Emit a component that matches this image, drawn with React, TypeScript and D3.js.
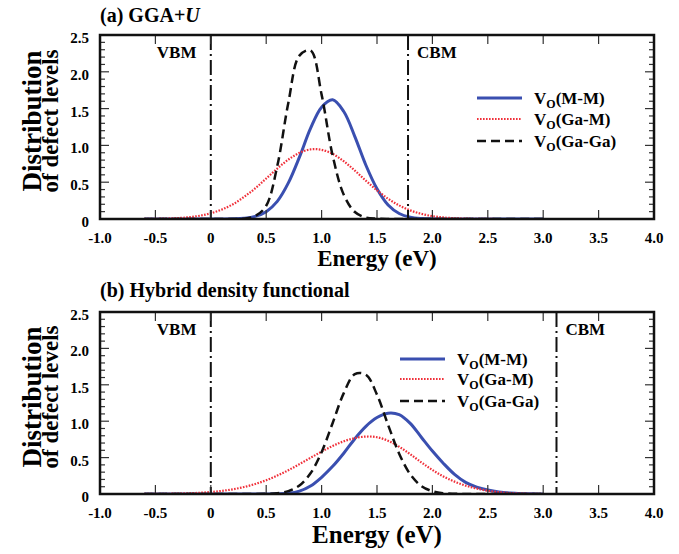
import React from "react";
import * as d3 from "d3";

// ---- data ----
const energies = [
  -0.6, -0.5, -0.4, -0.3, -0.2, -0.1, 0.0, 0.1, 0.2, 0.3, 0.4, 0.5, 0.6, 0.7, 0.8, 0.9,
  1.0, 1.1, 1.2, 1.3, 1.4, 1.5, 1.6, 1.7, 1.8, 1.9, 2.0, 2.1, 2.2, 2.3, 2.4, 2.5, 2.6,
  2.7, 2.8, 2.9, 3.0,
];

// (a) GGA+U
const ggaMM = [
  0, 0, 0, 0, 0, 0, 0, 0, 0.002, 0.01, 0.035, 0.1, 0.24, 0.49, 0.84, 1.23, 1.52, 1.62,
  1.46, 1.12, 0.73, 0.41, 0.19, 0.075, 0.025, 0.007, 0.002, 0, 0, 0, 0, 0, 0, 0, 0, 0, 0,
];
const ggaGaM = [
  0.001, 0.003, 0.006, 0.012, 0.024, 0.044, 0.078, 0.129, 0.2, 0.3, 0.415, 0.55, 0.685,
  0.807, 0.899, 0.946, 0.94, 0.884, 0.785, 0.658, 0.52, 0.39, 0.276, 0.185, 0.117, 0.07,
  0.039, 0.021, 0.0105, 0.005, 0.002, 0.001, 0, 0, 0, 0, 0,
];
const ggaGaGa = [
  0, 0, 0, 0, 0, 0, 0, 0, 0, 0.005, 0.04, 0.18, 0.72, 1.58, 2.22, 2.29, 1.69, 0.86, 0.33,
  0.095, 0.02, 0.004, 0, 0, 0, 0, 0, 0, 0, 0, 0, 0, 0, 0, 0, 0, 0,
];

// (b) Hybrid density functional
const hybMM = [
  0, 0, 0, 0, 0, 0, 0, 0, 0, 0, 0, 0, 0.002, 0.01, 0.04, 0.11, 0.23, 0.38, 0.56, 0.76,
  0.93, 1.05, 1.11, 1.09, 0.97, 0.78, 0.59, 0.42, 0.27, 0.16, 0.095, 0.055, 0.028, 0.013,
  0.005, 0.002, 0,
];
const hybGaM = [
  0.001, 0.002, 0.003, 0.006, 0.01, 0.017, 0.027, 0.043, 0.065, 0.096, 0.137, 0.189,
  0.253, 0.327, 0.41, 0.497, 0.582, 0.66, 0.724, 0.768, 0.789, 0.78, 0.731, 0.649, 0.546,
  0.435, 0.33, 0.24, 0.17, 0.115, 0.075, 0.045, 0.025, 0.013, 0.006, 0.002, 0.001,
];
const hybGaGa = [
  0, 0, 0, 0, 0, 0, 0, 0, 0, 0, 0, 0.003, 0.012, 0.04, 0.117, 0.284, 0.575, 0.976, 1.386,
  1.647, 1.639, 1.364, 0.95, 0.554, 0.27, 0.11, 0.038, 0.011, 0.003, 0, 0, 0, 0, 0, 0, 0, 0,
];

const seriesNames = ["M-M", "Ga-M", "Ga-Ga"];
const xTicks = [-1.0, -0.5, 0, 0.5, 1.0, 1.5, 2.0, 2.5, 3.0, 3.5, 4.0];
const xTickLabels = ["-1.0", "-0.5", "0", "0.5", "1.0", "1.5", "2.0", "2.5", "3.0", "3.5", "4.0"];
const yTicks = [0, 0.5, 1.0, 1.5, 2.0, 2.5];
const yTickLabels = ["0", "0.5", "1.0", "1.5", "2.0", "2.5"];
const vbmA = 0;
const cbmA = 1.78;
const vbmB = 0;
const cbmB = 3.12;

// ---- styles ----
const FONT = "'Liberation Serif', 'Times New Roman', serif";
const styles = [
  { stroke: "#3a4fb0", width: 3, dash: "none" },
  { stroke: "#f0303a", width: 2.2, dash: "1.6,1.4" },
  { stroke: "#111111", width: 2.5, dash: "9,5" },
];

type PanelProps = {
  top: number;
  bottom: number;
  values: number[][];
  vbm: number;
  cbm: number;
  legendX: number;
  legendY: number[];
  xLabelSize: number;
  xLabelY: number;
  title: React.ReactNode;
  titleY: number;
};

const LEFT = 100;
const RIGHT = 654;

function Panel(p: PanelProps) {
  const x = d3.scaleLinear().domain([-1, 4]).range([LEFT, RIGHT]);
  const y = d3.scaleLinear().domain([0, 2.5]).range([p.bottom, p.top]);
  const line = d3
    .line<[number, number]>()
    .x((d) => x(d[0]))
    .y((d) => y(Math.max(0, d[1])))
    .curve(d3.curveCatmullRom.alpha(0.5));
  const minorY = d3.range(0, 26).map((i) => i / 10);
  const midY = (p.top + p.bottom) / 2 - 6;

  return (
    <g>
      <text x={LEFT} y={p.titleY} fontFamily={FONT} fontWeight="bold" fontSize={20}>
        {p.title}
      </text>
      {/* y axis label */}
      <text
        transform={`translate(41,${midY}) rotate(-90)`}
        textAnchor="middle"
        fontFamily={FONT}
        fontWeight="bold"
        fontSize={27}
      >
        Distribution
      </text>
      <text
        transform={`translate(58,${midY}) rotate(-90)`}
        textAnchor="middle"
        fontFamily={FONT}
        fontWeight="bold"
        fontSize={23}
      >
        of defect levels
      </text>
      {/* curves */}
      <defs>
        <clipPath id={`clip${p.top}`}>
          <rect x={LEFT} y={p.top} width={RIGHT - LEFT} height={p.bottom - p.top} />
        </clipPath>
      </defs>
      <g clipPath={`url(#clip${p.top})`}>
        {p.values.map((vals, i) => (
          <path
            key={i}
            d={line(energies.map((e, j) => [e, vals[j]] as [number, number])) || ""}
            fill="none"
            stroke={styles[i].stroke}
            strokeWidth={styles[i].width}
            strokeDasharray={styles[i].dash}
            strokeLinejoin="round"
          />
        ))}
      </g>
      {/* VBM / CBM */}
      {[p.vbm, p.cbm].map((v, i) => (
        <line
          key={i}
          x1={x(v)}
          x2={x(v)}
          y1={p.top}
          y2={p.bottom}
          stroke="#111"
          strokeWidth={2}
          strokeDasharray="15,4,2,4"
        />
      ))}
      <text x={x(p.vbm) - 54} y={p.top + 23} fontFamily={FONT} fontWeight="bold" fontSize={17}>
        VBM
      </text>
      <text x={x(p.cbm) + 9} y={p.top + 23} fontFamily={FONT} fontWeight="bold" fontSize={17}>
        CBM
      </text>
      {/* ticks */}
      {minorY.map((v, i) => {
        const major = i % 5 === 0;
        const len = major ? 9 : 5;
        return (
          <g key={i}>
            <line x1={LEFT} x2={LEFT + len} y1={y(v)} y2={y(v)} stroke="#333" strokeWidth={1.2} />
            <line x1={RIGHT} x2={RIGHT - len} y1={y(v)} y2={y(v)} stroke="#333" strokeWidth={1.2} />
          </g>
        );
      })}
      {xTicks.map((v, i) => (
        <g key={i}>
          <line x1={x(v)} x2={x(v)} y1={p.top} y2={p.top + 9} stroke="#333" strokeWidth={1.2} />
          <line x1={x(v)} x2={x(v)} y1={p.bottom} y2={p.bottom - 9} stroke="#333" strokeWidth={1.2} />
          <text
            x={x(v)}
            y={p.bottom + 24}
            textAnchor="middle"
            fontFamily={FONT}
            fontWeight="bold"
            fontSize={15}
          >
            {xTickLabels[i]}
          </text>
        </g>
      ))}
      {yTicks.map((v, i) => (
        <text
          key={i}
          x={89}
          y={y(v) + 8}
          textAnchor="end"
          fontFamily={FONT}
          fontWeight="bold"
          fontSize={15}
        >
          {yTickLabels[i]}
        </text>
      ))}
      {/* frame */}
      <rect
        x={LEFT}
        y={p.top}
        width={RIGHT - LEFT}
        height={p.bottom - p.top}
        fill="none"
        stroke="#111"
        strokeWidth={2.5}
      />
      {/* x label */}
      <text
        x={(LEFT + RIGHT) / 2}
        y={p.xLabelY}
        textAnchor="middle"
        fontFamily={FONT}
        fontWeight="bold"
        fontSize={p.xLabelSize}
      >
        Energy (eV)
      </text>
      {/* legend */}
      {seriesNames.map((n, i) => (
        <g key={n}>
          <line
            x1={p.legendX}
            x2={p.legendX + 45}
            y1={p.legendY[i]}
            y2={p.legendY[i]}
            stroke={styles[i].stroke}
            strokeWidth={styles[i].width}
            strokeDasharray={styles[i].dash}
          />
          <text
            x={p.legendX + 57}
            y={p.legendY[i] + 6}
            fontFamily={FONT}
            fontWeight="bold"
            fontSize={17}
          >
            V
            <tspan fontSize={12} dy={4}>
              O
            </tspan>
            <tspan dy={-4}>({n})</tspan>
          </text>
        </g>
      ))}
    </g>
  );
}

export default function App() {
  return (
    <svg
      width={679}
      height={554}
      style={{ display: "block", position: "absolute", left: 0, top: 0, background: "#fff" }}
    >
      <Panel
        top={35}
        bottom={219}
        values={[ggaMM, ggaGaM, ggaGaGa]}
        vbm={vbmA}
        cbm={cbmA}
        legendX={477}
        legendY={[98, 119, 141]}
        xLabelSize={23}
        xLabelY={266}
        titleY={22}
        title={
          <>
            (a) GGA+<tspan fontStyle="italic">U</tspan>
          </>
        }
      />
      <Panel
        top={312}
        bottom={494}
        values={[hybMM, hybGaM, hybGaGa]}
        vbm={vbmB}
        cbm={cbmB}
        legendX={400}
        legendY={[359, 379, 401]}
        xLabelSize={25}
        xLabelY={543}
        titleY={297}
        title={<>(b) Hybrid density functional</>}
      />
    </svg>
  );
}
